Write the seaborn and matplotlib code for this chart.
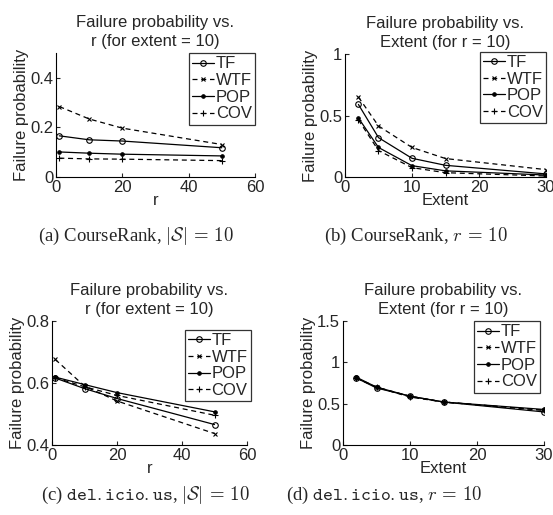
import numpy as np
import pandas as pd
import matplotlib
matplotlib.use("Agg")
import matplotlib.pyplot as plt
import seaborn as sns
from matplotlib.ticker import FuncFormatter

sns.set_style("white")
plt.rcParams["font.family"] = ["Liberation Sans", "DejaVu Sans"]
plt.rcParams["mathtext.fontset"] = "cm"

# ========== 数据 ==========
methods = ["TF", "WTF", "POP", "COV"]
r_vals = [1, 10, 20, 50]
extent_vals = [2, 5, 10, 15, 30]

# CourseRank, vs r
cr_r_tf = [0.166, 0.150, 0.145, 0.118]
cr_r_wtf = [0.284, 0.234, 0.197, 0.131]
cr_r_pop = [0.101, 0.096, 0.092, 0.085]
cr_r_cov = [0.076, 0.073, 0.072, 0.066]

# CourseRank, vs extent
cr_e_tf = [0.59, 0.32, 0.152, 0.095, 0.025]
cr_e_wtf = [0.65, 0.415, 0.24, 0.15, 0.06]
cr_e_pop = [0.48, 0.24, 0.092, 0.05, 0.016]
cr_e_cov = [0.465, 0.215, 0.076, 0.035, 0.008]

# del.icio.us, vs r
del_r_tf = [0.616, 0.582, 0.550, 0.466]
del_r_wtf = [0.676, 0.590, 0.542, 0.437]
del_r_pop = [0.619, 0.595, 0.569, 0.507]
del_r_cov = [0.617, 0.588, 0.560, 0.496]

# del.icio.us, vs extent
del_e_tf = [0.81, 0.69, 0.59, 0.52, 0.40]
del_e_wtf = [0.81, 0.70, 0.59, 0.52, 0.42]
del_e_pop = [0.82, 0.70, 0.59, 0.52, 0.43]
del_e_cov = [0.81, 0.70, 0.58, 0.52, 0.42]

titles = ["Failure probability vs.\nr (for extent = 10)",
          "Failure probability vs.\nExtent (for r = 10)",
          "Failure probability vs.\nr (for extent = 10)",
          "Failure probability vs.\nExtent (for r = 10)"]
xlabels = ["r", "Extent", "r", "Extent"]
captions = [r"(a) CourseRank, $|\mathcal{S}|\,=\,10$",
            r"(b) CourseRank, $r\,=\,10$",
            r"(c) $\mathtt{del.icio.us}$, $|\mathcal{S}|\,=\,10$",
            r"(d) $\mathtt{del.icio.us}$, $r\,=\,10$"]


def make_df(xs, tf, wtf, pop, cov):
    rows = []
    for m, ys in zip(methods, [tf, wtf, pop, cov]):
        for x, y in zip(xs, ys):
            rows.append({"x": x, "p": y, "method": m})
    return pd.DataFrame(rows)


dfs = [make_df(r_vals, cr_r_tf, cr_r_wtf, cr_r_pop, cr_r_cov),
       make_df(extent_vals, cr_e_tf, cr_e_wtf, cr_e_pop, cr_e_cov),
       make_df(r_vals, del_r_tf, del_r_wtf, del_r_pop, del_r_cov),
       make_df(extent_vals, del_e_tf, del_e_wtf, del_e_pop, del_e_cov)]

# 线型
styles = {
    "TF":  dict(marker="o", linestyle="-", markersize=4, mfc="none"),
    "WTF": dict(marker="x", linestyle=(0, (4, 3)), markersize=3.5),
    "POP": dict(marker=".", linestyle="-", markersize=5, mfc="k"),
    "COV": dict(marker="+", linestyle=(0, (4, 3)), markersize=4.5),
}

W, H = 553, 515
fig = plt.figure(figsize=(W / 100, H / 100), dpi=100)

# 坐标轴像素位置 (left, top, right, bottom)
boxes = [(56, 53, 255, 177), (345, 54, 546, 177),
         (52, 321, 247, 445), (343, 321, 544, 445)]
xlims = [(0, 60), (0, 30), (0, 60), (0, 30)]
ylims = [(0, 0.5), (0, 1), (0.4, 0.8), (0, 1.5)]
xticks = [[0, 20, 40, 60], [0, 10, 20, 30], [0, 20, 40, 60], [0, 10, 20, 30]]
yticks = [[0, 0.2, 0.4], [0, 0.5, 1], [0.4, 0.6, 0.8], [0, 0.5, 1, 1.5]]
legend_anchor = [(1.0, 1.0), (1.0, 1.02), (1.02, 0.93), (0.98, 1.0)]
caption_pos = [(136, 236), (416, 236), (145, 495), (384, 495)]

fmt = FuncFormatter(lambda v, pos: "%g" % v)
FS = 12

for i in range(4):
    l, t, r, b = boxes[i]
    ax = fig.add_axes([l / W, 1 - b / H, (r - l) / W, (b - t) / H])
    df = dfs[i]
    for m in methods:
        sub = df[df["method"] == m]
        sns.lineplot(x=sub["x"], y=sub["p"], ax=ax, color="k", linewidth=0.9,
                     label=m, mec="k", mew=0.8, **styles[m])
    ax.set_xlim(*xlims[i])
    ax.set_ylim(*ylims[i])
    ax.set_xticks(xticks[i])
    ax.set_yticks(yticks[i])
    ax.xaxis.set_major_formatter(fmt)
    ax.yaxis.set_major_formatter(fmt)
    ax.tick_params(direction="in", length=3, width=0.8, labelsize=FS, pad=2,
                   bottom=True, left=True)
    for s in ["top", "right"]:
        ax.spines[s].set_visible(False)
    for s in ["left", "bottom"]:
        ax.spines[s].set_color("k")
        ax.spines[s].set_linewidth(0.8)
    ax.set_xlabel(xlabels[i], fontsize=FS, labelpad=-1)
    ax.set_ylabel("Failure probability", fontsize=FS, labelpad=1)
    ax.set_title(titles[i], fontsize=FS, linespacing=1.3, pad=5)
    leg = ax.legend(loc="upper right", bbox_to_anchor=legend_anchor[i],
                    fontsize=FS, handlelength=1.3, handletextpad=0.1,
                    labelspacing=0.1, borderpad=0.2, borderaxespad=0.0,
                    fancybox=False, frameon=True, numpoints=1)
    leg.get_frame().set_edgecolor("k")
    leg.get_frame().set_linewidth(0.9)

for (cx, cy), txt in zip(caption_pos, captions):
    fig.text(cx / W, 1 - cy / H, txt, ha="center", va="center", fontsize=13.5,
             family=["Liberation Serif", "DejaVu Serif"])

fig.savefig("out.png", dpi=100)
